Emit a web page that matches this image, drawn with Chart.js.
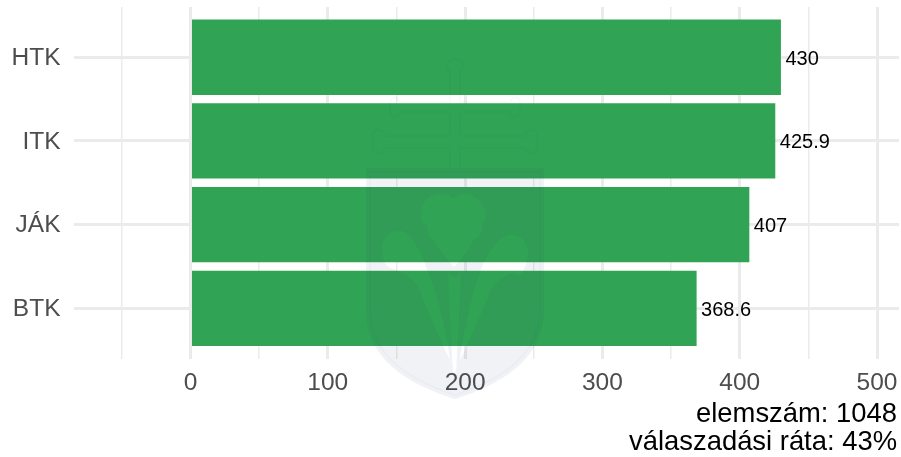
<!DOCTYPE html>
<html>
<head>
<meta charset="utf-8">
<title>elemszám</title>
<script src="https://cdn.jsdelivr.net/npm/chart.js@4"></script>
<style>
  html, body { margin: 0; background: #fff; }
  canvas { display: block; }
</style>
</head>
<body>
<canvas id="chart" width="901" height="457"></canvas>
<script>
const categories = ['HTK', 'ITK', 'JÁK', 'BTK'];
const values = [430, 425.9, 407, 368.6];
const valueTicks = [-50, 0, 50, 100, 150, 200, 250, 300, 350, 400, 450, 500];
const captionLines = ['elemszám: 1048', 'válaszadási ráta: 43%'];

const FONT = '"Liberation Sans", Arial, sans-serif';

// value labels right after the bar ends
const valueLabels = {
    id: 'valueLabels',
    afterDatasetsDraw(chart) {
        const ctx = chart.ctx;
        ctx.save();
        ctx.font = '20px ' + FONT;
        ctx.fillStyle = '#000';
        ctx.textBaseline = 'middle';
        chart.getDatasetMeta(0).data.forEach((bar, i) => {
            ctx.fillText(String(values[i]), bar.x + 4.5, bar.y + 2);
        });
        ctx.restore();
    }
};

// two right aligned lines under the x axis
const caption = {
    id: 'caption',
    afterDraw(chart) {
        const ctx = chart.ctx;
        ctx.save();
        ctx.font = '27.4px ' + FONT;
        ctx.fillStyle = '#000';
        ctx.textAlign = 'right';
        ctx.fillText(captionLines[0], 897, 422);
        ctx.fillText(captionLines[1], 897, 450);
        ctx.restore();
    }
};

// faint university crest over the whole plot, not data
const crest = {
    id: 'crest',
    afterDraw(chart) {
        const ctx = chart.ctx;
        const shield = new Path2D('M366 168 H544 V310 C544 360 500 385 455 399 C410 385 366 360 366 310 Z');
        const leaves = new Path2D(
            'M453 198 C445 191 428 192 423 204 C418 214 420 224 428 226 C426 232 429 238 434 240 C437 248 446 258 454 267 C462 258 470 250 473 240 C480 238 484 230 482 224 C488 220 486 206 479 200 C471 192 460 192 453 198 Z ' +
            'M405 232 C394 228 384 234 382 246 C381 256 384 264 390 268 C400 270 410 276 418 286 C428 312 440 340 450 360 C448 340 440 300 428 272 C422 254 414 238 405 232 Z ' +
            'M505 236 C516 232 526 238 528 250 C529 260 524 270 520 276 C512 270 500 276 492 288 C482 312 470 340 460 360 C462 340 470 300 480 272 C486 256 496 240 505 236 Z ' +
            'M448 272 L454 278 L461 272 C460 300 458 340 456 372 L453 372 C451 340 449 300 448 272 Z'
        );
        const cross = new Path2D(
            'M450 168 V148 H385 C383 155 375 155 373 148 V134 C375 128 383 128 385 136 H450 V112 H400 C398 118 392 118 390 112 V102 C392 96 398 96 400 102 H450 V72 C445 68 445 60 455 59 C465 60 465 68 460 72 V102 H510 C512 96 518 96 520 102 V112 C518 118 512 118 510 112 H460 V136 H525 C527 128 535 128 537 134 V148 C535 155 527 155 525 148 H460 V168'
        );
        ctx.save();
        ctx.fillStyle = 'rgba(40, 60, 120, 0.065)';
        const filled = new Path2D();
        filled.addPath(shield);
        filled.addPath(leaves);
        ctx.fill(filled, 'evenodd');
        ctx.strokeStyle = 'rgba(40, 60, 120, 0.025)';
        ctx.lineWidth = 2;
        ctx.stroke(cross);
        ctx.stroke(new Path2D('M370 172 H540 V310 C540 356 498 381 455 395 C412 381 370 356 370 310 Z'));
        ctx.restore();
    }
};

new Chart(document.getElementById('chart'), {
    type: 'bar',
    data: {
        datasets: [{
            data: values.map((v, i) => ({ x: v, y: i + 1 })),
            backgroundColor: '#31A354',
            borderWidth: 0,
            categoryPercentage: 1,
            barPercentage: 0.9
        }]
    },
    options: {
        indexAxis: 'y',
        responsive: false,
        animation: false,
        layout: { padding: { top: 7, right: 2, left: 0, bottom: 60.5 } },
        plugins: {
            legend: { display: false },
            tooltip: { enabled: false }
        },
        scales: {
            x: {
                type: 'linear',
                min: -85.2,
                max: 516,
                afterBuildTicks: (axis) => { axis.ticks = valueTicks.map(v => ({ value: v })); },
                afterFit: (axis) => {
                    axis.height = 38;
                    axis.paddingLeft = 0;
                    axis.paddingRight = 0;
                },
                border: { display: false },
                grid: {
                    drawTicks: false,
                    color: '#EBEBEB',
                    lineWidth: (c) => (c.tick && c.tick.value % 100 === 0 ? 3 : 1.5)
                },
                ticks: {
                    autoSkip: false,
                    maxRotation: 0,
                    padding: 10,
                    color: '#4D4D4D',
                    font: { family: FONT, size: 24.5 },
                    callback: (v) => (v % 100 === 0 ? String(v) : '')
                }
            },
            y: {
                type: 'linear',
                reverse: true,
                offset: false,
                min: 0.4,
                max: 4.6,
                afterBuildTicks: (axis) => { axis.ticks = categories.map((c, i) => ({ value: i + 1 })); },
                afterFit: (axis) => {
                    axis.width = 73.5;
                    axis.paddingTop = 0;
                    axis.paddingBottom = 0;
                },
                border: { display: false },
                grid: { offset: false, drawTicks: false, color: '#EBEBEB', lineWidth: 3 },
                ticks: {
                    padding: 13,
                    labelOffset: 1,
                    color: '#4D4D4D',
                    font: { family: FONT, size: 24.5 },
                    callback: (v) => categories[v - 1]
                }
            }
        }
    },
    plugins: [valueLabels, crest, caption]
});
</script>
</body>
</html>
